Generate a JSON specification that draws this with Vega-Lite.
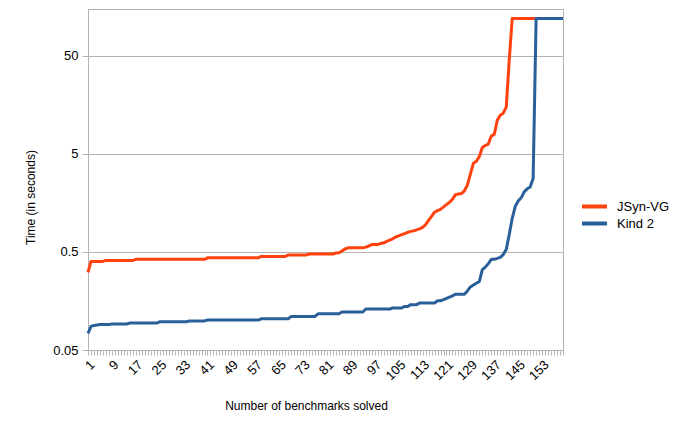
{
"$schema": "https://vega.github.io/schema/vega-lite/v6.json",
"width": 475, "height": 341,
"autosize": {"type": "none"},
"padding": {"left": 88, "top": 9, "right": 116, "bottom": 81},
"background": "white",
"config": {"font": "Liberation Sans", "view": {"stroke": "#b3b3b3", "strokeWidth": 1}},
"data": {"values": [
{"n":1,"JSyn-VG":0.31,"Kind 2":0.074},{"n":2,"JSyn-VG":0.40,"Kind 2":0.087},{"n":3,"JSyn-VG":0.40,"Kind 2":0.089},{"n":4,"JSyn-VG":0.40,"Kind 2":0.09},{"n":5,"JSyn-VG":0.40,"Kind 2":0.091},{"n":6,"JSyn-VG":0.40,"Kind 2":0.091},{"n":7,"JSyn-VG":0.41,"Kind 2":0.091},{"n":8,"JSyn-VG":0.41,"Kind 2":0.091},{"n":9,"JSyn-VG":0.41,"Kind 2":0.092},{"n":10,"JSyn-VG":0.41,"Kind 2":0.092},
{"n":11,"JSyn-VG":0.41,"Kind 2":0.092},{"n":12,"JSyn-VG":0.41,"Kind 2":0.092},{"n":13,"JSyn-VG":0.41,"Kind 2":0.092},{"n":14,"JSyn-VG":0.41,"Kind 2":0.092},{"n":15,"JSyn-VG":0.41,"Kind 2":0.094},{"n":16,"JSyn-VG":0.41,"Kind 2":0.094},{"n":17,"JSyn-VG":0.42,"Kind 2":0.094},{"n":18,"JSyn-VG":0.42,"Kind 2":0.094},{"n":19,"JSyn-VG":0.42,"Kind 2":0.094},{"n":20,"JSyn-VG":0.42,"Kind 2":0.094},
{"n":21,"JSyn-VG":0.42,"Kind 2":0.094},{"n":22,"JSyn-VG":0.42,"Kind 2":0.094},{"n":23,"JSyn-VG":0.42,"Kind 2":0.094},{"n":24,"JSyn-VG":0.42,"Kind 2":0.094},{"n":25,"JSyn-VG":0.42,"Kind 2":0.097},{"n":26,"JSyn-VG":0.42,"Kind 2":0.097},{"n":27,"JSyn-VG":0.42,"Kind 2":0.097},{"n":28,"JSyn-VG":0.42,"Kind 2":0.097},{"n":29,"JSyn-VG":0.42,"Kind 2":0.097},{"n":30,"JSyn-VG":0.42,"Kind 2":0.097},
{"n":31,"JSyn-VG":0.42,"Kind 2":0.097},{"n":32,"JSyn-VG":0.42,"Kind 2":0.097},{"n":33,"JSyn-VG":0.42,"Kind 2":0.097},{"n":34,"JSyn-VG":0.42,"Kind 2":0.097},{"n":35,"JSyn-VG":0.42,"Kind 2":0.099},{"n":36,"JSyn-VG":0.42,"Kind 2":0.099},{"n":37,"JSyn-VG":0.42,"Kind 2":0.099},{"n":38,"JSyn-VG":0.42,"Kind 2":0.099},{"n":39,"JSyn-VG":0.42,"Kind 2":0.099},{"n":40,"JSyn-VG":0.42,"Kind 2":0.099},
{"n":41,"JSyn-VG":0.435,"Kind 2":0.101},{"n":42,"JSyn-VG":0.435,"Kind 2":0.101},{"n":43,"JSyn-VG":0.435,"Kind 2":0.101},{"n":44,"JSyn-VG":0.435,"Kind 2":0.101},{"n":45,"JSyn-VG":0.435,"Kind 2":0.101},{"n":46,"JSyn-VG":0.435,"Kind 2":0.101},{"n":47,"JSyn-VG":0.435,"Kind 2":0.101},{"n":48,"JSyn-VG":0.435,"Kind 2":0.101},{"n":49,"JSyn-VG":0.435,"Kind 2":0.101},{"n":50,"JSyn-VG":0.435,"Kind 2":0.101},
{"n":51,"JSyn-VG":0.435,"Kind 2":0.101},{"n":52,"JSyn-VG":0.435,"Kind 2":0.101},{"n":53,"JSyn-VG":0.435,"Kind 2":0.101},{"n":54,"JSyn-VG":0.435,"Kind 2":0.101},{"n":55,"JSyn-VG":0.435,"Kind 2":0.101},{"n":56,"JSyn-VG":0.435,"Kind 2":0.101},{"n":57,"JSyn-VG":0.435,"Kind 2":0.101},{"n":58,"JSyn-VG":0.435,"Kind 2":0.101},{"n":59,"JSyn-VG":0.45,"Kind 2":0.104},{"n":60,"JSyn-VG":0.45,"Kind 2":0.104},
{"n":61,"JSyn-VG":0.45,"Kind 2":0.104},{"n":62,"JSyn-VG":0.45,"Kind 2":0.104},{"n":63,"JSyn-VG":0.45,"Kind 2":0.104},{"n":64,"JSyn-VG":0.45,"Kind 2":0.104},{"n":65,"JSyn-VG":0.45,"Kind 2":0.104},{"n":66,"JSyn-VG":0.45,"Kind 2":0.104},{"n":67,"JSyn-VG":0.45,"Kind 2":0.104},{"n":68,"JSyn-VG":0.465,"Kind 2":0.104},{"n":69,"JSyn-VG":0.465,"Kind 2":0.11},{"n":70,"JSyn-VG":0.465,"Kind 2":0.11},
{"n":71,"JSyn-VG":0.465,"Kind 2":0.11},{"n":72,"JSyn-VG":0.465,"Kind 2":0.11},{"n":73,"JSyn-VG":0.465,"Kind 2":0.11},{"n":74,"JSyn-VG":0.465,"Kind 2":0.11},{"n":75,"JSyn-VG":0.476,"Kind 2":0.11},{"n":76,"JSyn-VG":0.476,"Kind 2":0.11},{"n":77,"JSyn-VG":0.476,"Kind 2":0.11},{"n":78,"JSyn-VG":0.476,"Kind 2":0.117},{"n":79,"JSyn-VG":0.476,"Kind 2":0.117},{"n":80,"JSyn-VG":0.476,"Kind 2":0.117},
{"n":81,"JSyn-VG":0.476,"Kind 2":0.117},{"n":82,"JSyn-VG":0.476,"Kind 2":0.117},{"n":83,"JSyn-VG":0.476,"Kind 2":0.117},{"n":84,"JSyn-VG":0.488,"Kind 2":0.117},{"n":85,"JSyn-VG":0.49,"Kind 2":0.117},{"n":86,"JSyn-VG":0.51,"Kind 2":0.122},{"n":87,"JSyn-VG":0.536,"Kind 2":0.122},{"n":88,"JSyn-VG":0.55,"Kind 2":0.122},{"n":89,"JSyn-VG":0.55,"Kind 2":0.122},{"n":90,"JSyn-VG":0.55,"Kind 2":0.122},
{"n":91,"JSyn-VG":0.55,"Kind 2":0.122},{"n":92,"JSyn-VG":0.55,"Kind 2":0.122},{"n":93,"JSyn-VG":0.55,"Kind 2":0.122},{"n":94,"JSyn-VG":0.56,"Kind 2":0.131},{"n":95,"JSyn-VG":0.575,"Kind 2":0.131},{"n":96,"JSyn-VG":0.594,"Kind 2":0.131},{"n":97,"JSyn-VG":0.594,"Kind 2":0.131},{"n":98,"JSyn-VG":0.594,"Kind 2":0.131},{"n":99,"JSyn-VG":0.61,"Kind 2":0.131},{"n":100,"JSyn-VG":0.62,"Kind 2":0.131},
{"n":101,"JSyn-VG":0.64,"Kind 2":0.131},{"n":102,"JSyn-VG":0.66,"Kind 2":0.131},{"n":103,"JSyn-VG":0.68,"Kind 2":0.134},{"n":104,"JSyn-VG":0.71,"Kind 2":0.134},{"n":105,"JSyn-VG":0.73,"Kind 2":0.134},{"n":106,"JSyn-VG":0.75,"Kind 2":0.134},{"n":107,"JSyn-VG":0.77,"Kind 2":0.139},{"n":108,"JSyn-VG":0.79,"Kind 2":0.139},{"n":109,"JSyn-VG":0.81,"Kind 2":0.145},{"n":110,"JSyn-VG":0.82,"Kind 2":0.145},
{"n":111,"JSyn-VG":0.84,"Kind 2":0.145},{"n":112,"JSyn-VG":0.86,"Kind 2":0.151},{"n":113,"JSyn-VG":0.89,"Kind 2":0.151},{"n":114,"JSyn-VG":0.95,"Kind 2":0.151},{"n":115,"JSyn-VG":1.05,"Kind 2":0.151},{"n":116,"JSyn-VG":1.15,"Kind 2":0.151},{"n":117,"JSyn-VG":1.27,"Kind 2":0.151},{"n":118,"JSyn-VG":1.32,"Kind 2":0.159},{"n":119,"JSyn-VG":1.36,"Kind 2":0.159},{"n":120,"JSyn-VG":1.44,"Kind 2":0.163},
{"n":121,"JSyn-VG":1.52,"Kind 2":0.168},{"n":122,"JSyn-VG":1.6,"Kind 2":0.173},{"n":123,"JSyn-VG":1.72,"Kind 2":0.178},{"n":124,"JSyn-VG":1.92,"Kind 2":0.185},{"n":125,"JSyn-VG":1.95,"Kind 2":0.185},{"n":126,"JSyn-VG":1.97,"Kind 2":0.185},{"n":127,"JSyn-VG":2.1,"Kind 2":0.185},{"n":128,"JSyn-VG":2.4,"Kind 2":0.2},{"n":129,"JSyn-VG":3.1,"Kind 2":0.22},{"n":130,"JSyn-VG":4.0,"Kind 2":0.23},
{"n":131,"JSyn-VG":4.2,"Kind 2":0.24},{"n":132,"JSyn-VG":4.7,"Kind 2":0.25},{"n":133,"JSyn-VG":5.8,"Kind 2":0.33},{"n":134,"JSyn-VG":6.1,"Kind 2":0.35},{"n":135,"JSyn-VG":6.3,"Kind 2":0.38},{"n":136,"JSyn-VG":7.6,"Kind 2":0.42},{"n":137,"JSyn-VG":7.9,"Kind 2":0.42},{"n":138,"JSyn-VG":11,"Kind 2":0.43},{"n":139,"JSyn-VG":12.4,"Kind 2":0.44},{"n":140,"JSyn-VG":13,"Kind 2":0.47},
{"n":141,"JSyn-VG":15,"Kind 2":0.53},{"n":142,"JSyn-VG":45,"Kind 2":0.75},{"n":143,"JSyn-VG":120,"Kind 2":1.1},{"n":144,"JSyn-VG":120,"Kind 2":1.45},{"n":145,"JSyn-VG":120,"Kind 2":1.65},{"n":146,"JSyn-VG":120,"Kind 2":1.78},{"n":147,"JSyn-VG":120,"Kind 2":2.05},{"n":148,"JSyn-VG":120,"Kind 2":2.2},{"n":149,"JSyn-VG":120,"Kind 2":2.3},{"n":150,"JSyn-VG":120,"Kind 2":2.8},
{"n":151,"JSyn-VG":120,"Kind 2":120},{"n":152,"JSyn-VG":120,"Kind 2":120},{"n":153,"JSyn-VG":120,"Kind 2":120},{"n":154,"JSyn-VG":120,"Kind 2":120},{"n":155,"JSyn-VG":120,"Kind 2":120},{"n":156,"JSyn-VG":120,"Kind 2":120},{"n":157,"JSyn-VG":120,"Kind 2":120},{"n":158,"JSyn-VG":120,"Kind 2":120},{"n":159,"JSyn-VG":120,"Kind 2":120},{"n":160,"JSyn-VG":120,"Kind 2":120}
]},
"transform": [{"fold": ["JSyn-VG", "Kind 2"], "as": ["series", "t"]}],
"mark": {"type": "line", "strokeWidth": 3, "strokeJoin": "round"},
"encoding": {
"x": {"field": "n", "type": "quantitative",
 "scale": {"domain": [1, 160], "nice": false, "zero": false},
 "axis": {"title": "Number of benchmarks solved",
  "values": [1,2,3,4,5,6,7,8,9,10,11,12,13,14,15,16,17,18,19,20,21,22,23,24,25,26,27,28,29,30,31,32,33,34,35,36,37,38,39,40,41,42,43,44,45,46,47,48,49,50,51,52,53,54,55,56,57,58,59,60,61,62,63,64,65,66,67,68,69,70,71,72,73,74,75,76,77,78,79,80,81,82,83,84,85,86,87,88,89,90,91,92,93,94,95,96,97,98,99,100,101,102,103,104,105,106,107,108,109,110,111,112,113,114,115,116,117,118,119,120,121,122,123,124,125,126,127,128,129,130,131,132,133,134,135,136,137,138,139,140,141,142,143,144,145,146,147,148,149,150,151,152,153,154,155,156,157,158,159,160],
  "labelExpr": "(datum.value - 1) % 8 == 0 ? '' + datum.value : ''",
  "labelAngle": -45, "labelOverlap": false, "labelFlush": false, "labelBound": false,
  "grid": false, "domainColor": "#b3b3b3", "tickColor": "#b3b3b3", "tickSize": 5,
  "labelFontSize": 13, "labelColor": "#000000", "labelPadding": 3,
  "titleFontSize": 12, "titleFontWeight": "normal", "titleColor": "#000000",
  "titleX": 218, "titleY": 55, "titleBaseline": "middle", "titleAlign": "center"}},
"y": {"field": "t", "type": "quantitative",
 "scale": {"type": "log", "domain": [0.05, 150], "nice": false},
 "axis": {"title": "Time (in seconds)", "values": [0.05, 0.5, 5, 50],
  "labelExpr": "'' + datum.value",
  "grid": true, "gridColor": "#b3b3b3", "domainColor": "#b3b3b3", "tickColor": "#b3b3b3", "tickSize": 6,
  "labelFontSize": 13, "labelColor": "#000000", "labelPadding": 4,
  "titleFontSize": 12, "titleFontWeight": "normal", "titleColor": "#000000",
  "titleX": -58, "titleY": 188, "titleBaseline": "middle", "titleAlign": "center", "titleAngle": -90}},
"color": {"field": "series", "type": "nominal",
 "scale": {"domain": ["JSyn-VG", "Kind 2"], "range": ["#ff420e", "#2a6099"]},
 "legend": {"title": null, "orient": "none", "legendX": 492, "legendY": 190,
  "symbolType": "stroke", "symbolSize": 625, "symbolStrokeWidth": 4,
  "labelFontSize": 13, "labelColor": "#000000", "labelOffset": 8,
  "rowPadding": 2, "clipHeight": 15}}
}
}
